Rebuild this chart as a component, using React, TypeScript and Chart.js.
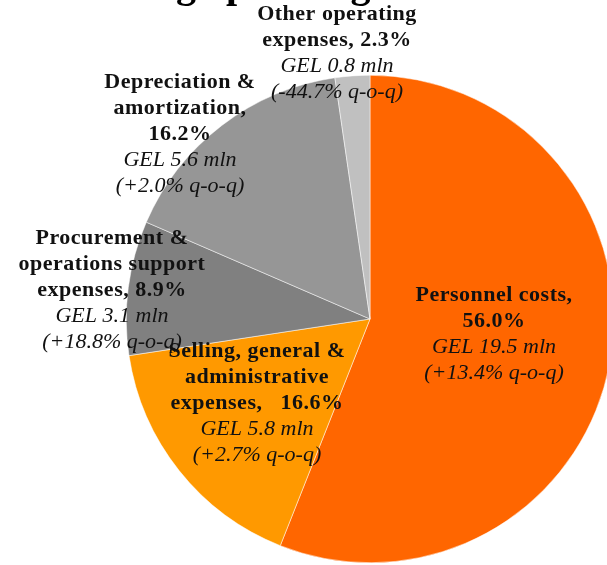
import React, { useEffect, useRef } from "react";
import { Chart, registerables } from "chart.js";

Chart.register(...registerables);

// ---- data ----
const categories = [
  "Personnel costs",
  "Selling, general & administrative expenses",
  "Procurement & operations support expenses",
  "Depreciation & amortization",
  "Other operating expenses",
];
const shares = [56.0, 16.6, 8.9, 16.2, 2.3];
const amountsGEL = [19.5, 5.8, 3.1, 5.6, 0.8];
const qoqChange = ["+13.4%", "+2.7%", "+18.8%", "+2.0%", "-44.7%"];
const sliceColors = ["#FF6600", "#FF9900", "#808080", "#969696", "#C0C0C0"];
// how each category name is wrapped in its label (share appended to the last line)
const nameLines = [
  ["Personnel costs,"],
  ["Selling, general &", "administrative", "expenses,   "],
  ["Procurement &", "operations support", "expenses, "],
  ["Depreciation &", "amortization,"],
  ["Other operating", "expenses, "],
];
const shareOnOwnLine = [true, false, false, true, false];
const titleText = "Recurring operating costs";

// ---- layout of annotations (not data) ----
const labelAnchors = [
  { x: 494, y: 301 },
  { x: 257, y: 357 },
  { x: 112, y: 244 },
  { x: 180, y: 88 },
  { x: 337, y: 20 },
];
const drawOrder = [0, 3, 4, 2, 1];
const LINE_H = 26;

function buildLines(i: number) {
  const bold = nameLines[i].slice();
  const share = shares[i].toFixed(1) + "%";
  if (shareOnOwnLine[i]) bold.push(share);
  else bold[bold.length - 1] = bold[bold.length - 1] + share;
  const italic = [
    `GEL ${amountsGEL[i].toFixed(1)} mln`,
    `(${qoqChange[i]} q-o-q)`,
  ];
  return { bold, italic };
}

const labelPlugin = {
  id: "sliceLabels",
  afterDraw(chart: any) {
    const ctx = chart.ctx as CanvasRenderingContext2D;
    ctx.save();
    // cut-off title at the very top (only descenders visible)
    ctx.font = "bold 40px 'Liberation Serif', 'Times New Roman', serif";
    ctx.fillStyle = "#000";
    ctx.textAlign = "left";
    ctx.textBaseline = "alphabetic";
    const firstWord = titleText.split(" ")[0] + " ";
    const startX = 206 - ctx.measureText(firstWord).width;
    ctx.fillText(titleText, startX, -3);

    ctx.textAlign = "center";
    for (const i of drawOrder) {
      const { bold, italic } = buildLines(i);
      const a = labelAnchors[i];
      let y = a.y;
      ctx.fillStyle = "#111";
      ctx.font = "bold 22px 'Liberation Serif', 'Times New Roman', serif";
      (ctx as any).letterSpacing = "0.5px";
      for (const line of bold) {
        ctx.fillText(line, a.x, y);
        y += LINE_H;
      }
      ctx.font = "italic 22px 'Liberation Serif', 'Times New Roman', serif";
      (ctx as any).letterSpacing = "0px";
      for (const line of italic) {
        ctx.fillText(line, a.x, y);
        y += LINE_H;
      }
    }
    ctx.restore();
  },
};

export default function App() {
  const ref = useRef<HTMLCanvasElement | null>(null);
  useEffect(() => {
    if (!ref.current) return;
    const chart = new Chart(ref.current, {
      type: "pie",
      data: {
        labels: categories,
        datasets: [
          {
            data: shares,
            backgroundColor: sliceColors,
            borderColor: "#FFFFFF",
            borderWidth: 0.5,
          },
        ],
      },
      options: {
        responsive: false,
        animation: false,
        layout: { padding: { left: 126, right: 26, top: 75, bottom: 2 } },
        plugins: {
          legend: { display: false },
          tooltip: { enabled: false },
          title: { display: false },
        },
      },
      plugins: [labelPlugin],
    });
    return () => chart.destroy();
  }, []);
  return (
    <div
      style={{
        position: "absolute",
        left: 0,
        top: 0,
        width: 607,
        height: 565,
        overflow: "hidden",
        background: "#fff",
      }}
    >
      <canvas ref={ref} width={640} height={565} style={{ display: "block" }} />
    </div>
  );
}
